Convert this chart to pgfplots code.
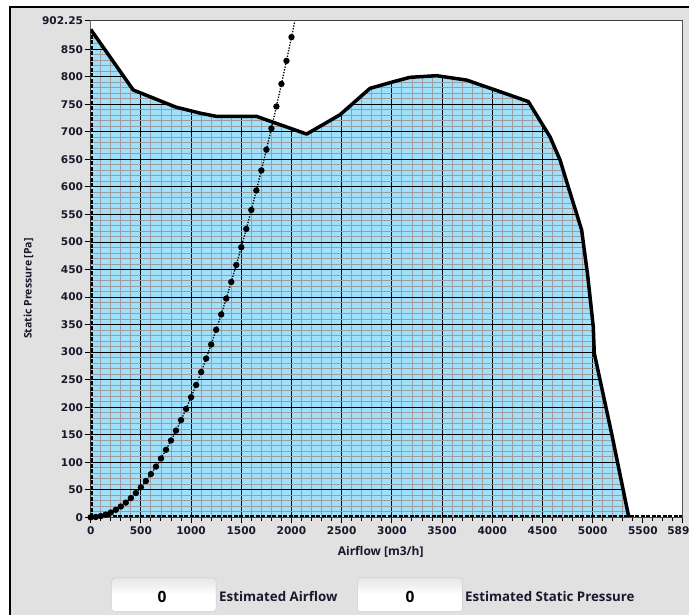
\documentclass[border=0pt]{standalone}
\usepackage{pgfplots}
\pgfplotsset{compat=1.18}
\usepackage{pgfplotstable}
\usepackage{fontspec}
\setmainfont{Open Sans}
\newfontfamily\tickfont{DejaVu Sans}
\definecolor{fillblue}{RGB}{160,224,250}
\definecolor{panel}{RGB}{225,225,225}
\definecolor{minorgrid}{RGB}{158,156,158}
\definecolor{txt}{RGB}{25,25,45}

\pgfplotstableread{
Q p
0 886
424 776
847 745
1089 734
1255 728
1653 728
2151 696
2483 731
2782 779
3014 791
3180 799
3446 802
3745 794
4077 773
4359 755
4575 691
4675 649
4757 600
4890 522
4950 440
5006 346
5016 298
5189 152
5360 0
}\fancurve

\pgfplotstableread{
Q p
0 0
50 0.5
100 2.2
150 4.9
200 8.7
250 13.6
300 19.6
350 26.7
400 34.9
450 44.1
500 54.5
550 65.9
600 78.5
650 92.1
700 106.8
750 122.6
800 139.5
850 157.5
900 176.6
950 196.7
1000 218.0
1050 240.3
1100 263.8
1150 288.3
1200 313.9
1250 340.6
1300 368.4
1350 397.3
1400 427.3
1450 458.3
1500 490.5
1550 523.7
1600 558.1
1650 593.5
1700 630.0
1750 667.6
1800 706.3
1850 746.1
1900 787.0
1950 828.9
2000 872.0
2050 916.1
}\syscurve

\begin{document}
\begin{tikzpicture}[x=1bp,y=1bp]
\pgfplotsset{set layers}
\begin{pgfonlayer}{axis background}
\fill[white] (0,0) rectangle (689,615);
\fill[panel] (10,-10) rectangle (700,607.5);
\draw[line width=2bp] (10,-10) -- (10,607.5) -- (700,607.5);
\end{pgfonlayer}
\begin{axis}[
  set layers,
  at={(90.7bp,97.7bp)}, anchor=south west,
  scale only axis, width=591.3bp, height=496.8bp,
  xmin=0, xmax=5890, ymin=0, ymax=902.25,
  axis background/.style={fill=white},
  xtick={0,500,1000,1500,2000,2500,3000,3500,4000,4500,5000,5500,5890},
  xticklabels={0,500,1000,1500,2000,2500,3000,3500,4000,4500,5000,5500,5890},
  minor xtick={100,200,...,5800},
  ytick={0,50,...,850,902.25},
  yticklabels={0,50,100,150,200,250,300,350,400,450,500,550,600,650,700,750,800,850,902.25},
  minor ytick={10,20,...,900},
  minor y tick style={draw=none},
  tick align=outside, tick pos=left,
  major tick length=6bp, minor tick length=3.5bp,
  tick style={black, line width=1bp},
  grid=both,
  major grid style={black, line width=0.9bp},
  minor grid style={minorgrid, line width=0.9bp},
  axis line style={draw=black!75, line width=1bp},
  /pgf/number format/assume math mode=true,
  tick label style={font=\tickfont\bfseries\fontsize{10.6bp}{12bp}\selectfont, text=txt},
  xticklabel style={inner sep=0pt, yshift=-3bp},
  yticklabel style={inner sep=0pt, xshift=-1.5bp},
]
\addplot[draw=none, fill=fillblue, on layer=axis background] table[x=Q,y=p] {\fancurve} \closedcycle;
\addplot[draw=none, fill=white] coordinates {
(0,902.25) (0,886) (424,776) (847,745) (1089,734) (1255,728) (1653,728) (2151,696) (2483,731) (2782,779) (3014,791) (3180,799) (3446,802) (3745,794) (4077,773) (4359,755) (4575,691) (4675,649) (4757,600) (4890,522) (4950,440) (5006,346) (5016,298) (5189,152) (5360,0) (5890,0) (5890,902.25)
} -- cycle;
\addplot[black, line width=3.5bp, line join=round] table[x=Q,y=p] {\fancurve};
\addplot[black, line width=1.3bp, dash pattern=on 1.3bp off 1.5bp, mark=*, mark size=2.5bp, mark options={solid}] table[x=Q,y=p] {\syscurve};
\addplot[black, line width=4bp, dash pattern=on 4bp off 1.5bp] coordinates {(0,0) (5890,0)};
\addplot[black, line width=4bp, dash pattern=on 4bp off 1.5bp] coordinates {(0,0) (0,886)};
\draw[black!75, line width=1bp] (rel axis cs:0,0) rectangle (rel axis cs:1,1);
\end{axis}
\node[anchor=base, text=txt, font=\bfseries\fontsize{12bp}{14bp}\selectfont] at (380.7,59.3) {Airflow [m3/h]};
\node[anchor=base, rotate=90, text=txt, font=\bfseries\fontsize{10.5bp}{12bp}\selectfont] at (31.7,326.5) {Static Pressure [Pa]};
\shade[rounded corners=3bp, top color=white!90!black, bottom color=white, middle color=white] (111.7,3.3) rectangle (216,37);
\draw[rounded corners=3bp, white!80!black, line width=0.5bp] (111.7,3.3) rectangle (216,37);
\shade[rounded corners=3bp, top color=white!90!black, bottom color=white, middle color=white] (357.3,3.3) rectangle (462.3,37);
\draw[rounded corners=3bp, white!80!black, line width=0.5bp] (357.3,3.3) rectangle (462.3,37);
\node[anchor=base, font=\bfseries\fontsize{15.5bp}{17bp}\selectfont] at (162,12.3) {0};
\node[anchor=base, font=\bfseries\fontsize{15.5bp}{17bp}\selectfont] at (410,12.3) {0};
\node[anchor=base west, inner sep=0pt, text=txt, font=\bfseries\fontsize{13.3bp}{15bp}\selectfont] at (219,13.3) {Estimated Airflow};
\node[anchor=base west, inner sep=0pt, text=txt, font=\bfseries\fontsize{13.3bp}{15bp}\selectfont] at (465,13.3) {Estimated Static Pressure};
\pgfresetboundingbox
\path[use as bounding box] (0,0) rectangle (689,615);
\end{tikzpicture}
\end{document}
